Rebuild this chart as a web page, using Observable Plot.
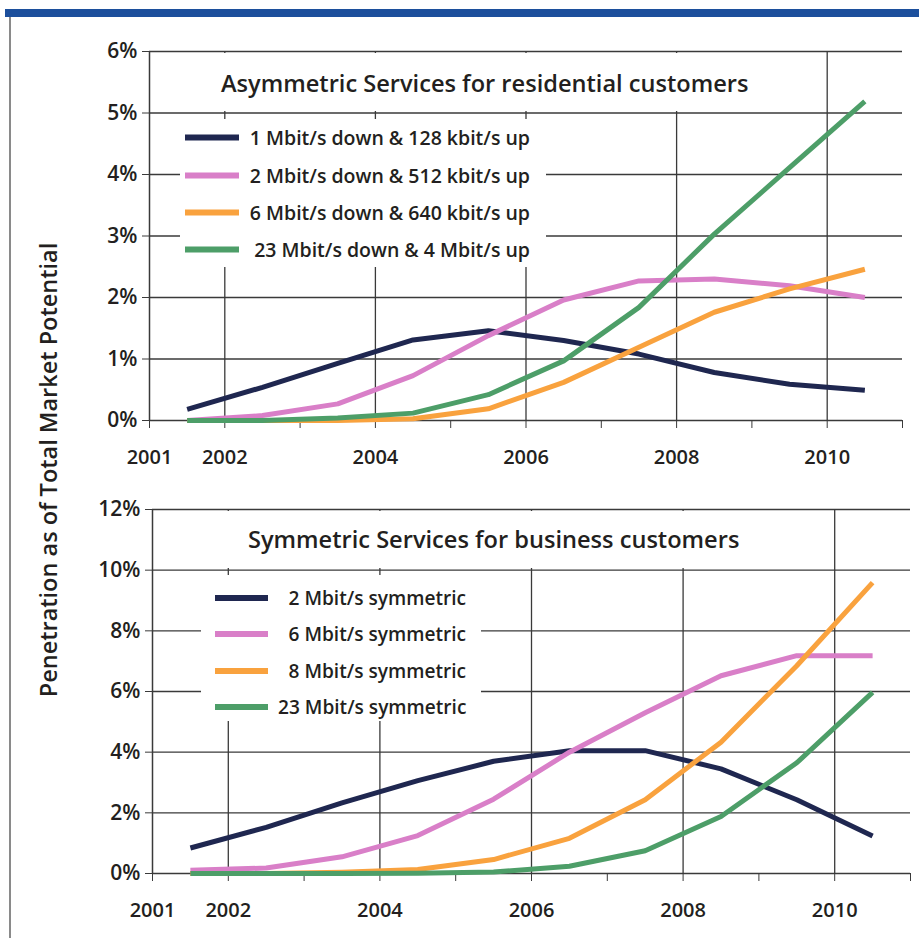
<!DOCTYPE html>
<html><head><meta charset="utf-8">
<script src="https://cdn.jsdelivr.net/npm/d3@7"></script>
<script src="https://cdn.jsdelivr.net/npm/@observablehq/plot@0.6"></script>
<style>
body{margin:0;background:#fff;font-family:"Open Sans",sans-serif;}
#wrap{position:relative;width:919px;height:938px;overflow:hidden;background:#fff;}
#wrap svg{position:absolute;left:0;}
.bar{position:absolute;left:5px;top:9px;width:914px;height:8px;background:#1c4f9c;}
.border{position:absolute;left:9px;top:17px;width:1.5px;height:921px;background:#8a8a8a;}
.box{position:absolute;background:#fff;}
.title{position:absolute;font-size:23.6px;font-weight:600;color:#231f20;white-space:nowrap;transform:translateY(-50%);}
.leg{position:absolute;display:flex;align-items:center;font-weight:600;color:#231f20;white-space:nowrap;transform:translateY(-50%);}
.leg .sw{display:inline-block;height:6px;}
.leg .tx{display:inline-block;text-align:right;}
.ytitle{position:absolute;left:48px;top:470px;transform:translate(-50%,-50%) rotate(-90deg);font-size:23.5px;font-weight:600;color:#231f20;white-space:nowrap;}
</style>
</head><body>
<div id="wrap">
  <div class="bar"></div>
  <div class="border"></div>
</div>
<script>
// ---- data ----
const years = [2001.5, 2002.5, 2003.5, 2004.5, 2005.5, 2006.5, 2007.5, 2008.5, 2009.5, 2010.5];
const allYears = [2001, 2002, 2003, 2004, 2005, 2006, 2007, 2008, 2009, 2010, 2011];
const xLabels = [2001, 2002, 2004, 2006, 2008, 2010];
const gridYears = [2002, 2004, 2006, 2008, 2010];

const topTitle = "Asymmetric Services for residential customers";
const topSeries = ["1 Mbit/s down & 128 kbit/s up", "2 Mbit/s down & 512 kbit/s up", "6 Mbit/s down & 640 kbit/s up", "23 Mbit/s down & 4 Mbit/s up"];
const top1 = [0.18, 0.54, 0.93, 1.31, 1.46, 1.30, 1.08, 0.78, 0.59, 0.49];
const top2 = [0.00, 0.08, 0.27, 0.73, 1.38, 1.96, 2.27, 2.30, 2.19, 2.00];
const top3 = [0.00, 0.00, 0.00, 0.03, 0.19, 0.62, 1.19, 1.76, 2.14, 2.46];
const top4 = [0.00, 0.00, 0.04, 0.12, 0.42, 0.97, 1.84, 3.03, 4.11, 5.19];
const topTicks = [0, 1, 2, 3, 4, 5, 6];

const botTitle = "Symmetric Services for business customers";
const botSeries = ["2 Mbit/s symmetric", "6 Mbit/s symmetric", "8 Mbit/s symmetric", "23 Mbit/s symmetric"];
const bot1 = [0.84, 1.52, 2.33, 3.06, 3.70, 4.05, 4.05, 3.45, 2.43, 1.24];
const bot2 = [0.11, 0.18, 0.55, 1.25, 2.45, 4.00, 5.30, 6.52, 7.18, 7.18];
const bot3 = [0.00, 0.00, 0.04, 0.13, 0.46, 1.16, 2.43, 4.33, 6.85, 9.59];
const bot4 = [0.00, 0.00, 0.00, 0.01, 0.05, 0.24, 0.75, 1.88, 3.65, 5.97];
const botTicks = [0, 2, 4, 6, 8, 10, 12];

const colors = ["#1f2750", "#d97fc8", "#f9a23e", "#4d9e68"];
const yTitle = "Penetration as of Total Market Potential";

// ---- build ----
function rows(series, arrays) {
  const out = [];
  series.forEach((s, i) => arrays[i].forEach((v, j) => out.push({series: s, year: years[j], value: v})));
  return out;
}
const ink = "#3a3a3a";
function panel(series, arrays, ticks, opts) {
  return Plot.plot({
    width: 919, height: opts.height,
    marginLeft: opts.ml, marginRight: opts.mr, marginTop: opts.mt, marginBottom: opts.mb,
    x: {domain: [2001, 2011]},
    y: {domain: [ticks[0], ticks[ticks.length - 1]]},
    color: {domain: series, range: colors},
    style: {fontFamily: "'Open Sans', sans-serif", fontSize: "20px", fontWeight: 600, color: "#231f20", background: "transparent", overflow: "visible"},
    marks: [
      Plot.gridY({ticks: ticks.slice(1), stroke: ink, strokeOpacity: 1, strokeWidth: 1.3}),
      Plot.gridX({ticks: gridYears, stroke: ink, strokeOpacity: 1, strokeWidth: 1.3}),
      Plot.ruleY([ticks[0]], {stroke: ink, strokeWidth: 1.5}),
      Plot.ruleX([2001], {stroke: ink, strokeWidth: 1.5}),
      Plot.axisY({ticks, tickFormat: d => d + "%", tickSize: 7, tickPadding: 5, label: null, stroke: ink, fill: "#231f20", fontSize: 21}),
      Plot.axisX({ticks: allYears, tickFormat: d => xLabels.includes(d) ? String(d) : "", tickSize: 8, tickPadding: 21, label: null, stroke: ink, fill: "#231f20", fontSize: 20}),
      Plot.line(rows(series, arrays), {x: "year", y: "value", stroke: "series", strokeWidth: 5, strokeLinecap: "butt", strokeLinejoin: "round"})
    ]
  });
}

const wrap = document.getElementById("wrap");
const svgTop = panel(topSeries, [top1, top2, top3, top4], topTicks, {height: 475, ml: 149, mr: 17, mt: 51, mb: 55});
svgTop.style.top = "0px";
wrap.appendChild(svgTop);
const svgBot = panel(botSeries, [bot1, bot2, bot3, bot4], botTicks, {height: 463, ml: 152, mr: 9, mt: 34, mb: 65});
svgBot.style.top = "475px";
wrap.appendChild(svgBot);

function addBox(l, t, w, h) {
  const d = document.createElement("div");
  d.className = "box";
  Object.assign(d.style, {left: l + "px", top: t + "px", width: w + "px", height: h + "px"});
  wrap.appendChild(d);
}
function addTitle(text, l, cy) {
  const d = document.createElement("div");
  d.className = "title";
  d.textContent = text;
  Object.assign(d.style, {left: l + "px", top: cy + "px"});
  wrap.appendChild(d);
}
function addLegend(series, l, cys, sw, gap, txw, fs) {
  series.forEach((s, i) => {
    const d = document.createElement("div");
    d.className = "leg";
    Object.assign(d.style, {left: l + "px", top: cys[i] + "px", fontSize: fs + "px"});
    const a = document.createElement("span");
    a.className = "sw";
    Object.assign(a.style, {width: sw + "px", background: colors[i], marginRight: gap + "px"});
    const b = document.createElement("span");
    b.className = "tx";
    b.style.width = txw + "px";
    b.textContent = s;
    d.appendChild(a); d.appendChild(b);
    wrap.appendChild(d);
  });
}

// top panel overlays
addBox(151, 53, 650, 58);
addBox(180, 119, 366, 148);
addTitle(topTitle, 221, 83);
addLegend(topSeries, 185, [137, 175, 212, 249], 54, 10, 281, 19.5);
// bottom panel overlays
addBox(154, 511, 650, 57);
addBox(201, 575, 280, 146);
addTitle(botTitle, 248, 539);
addLegend(botSeries, 215, [598, 634, 671, 707], 53, 10, 188, 19.1);

const yt = document.createElement("div");
yt.className = "ytitle";
yt.textContent = yTitle;
wrap.appendChild(yt);
</script>
</body></html>
